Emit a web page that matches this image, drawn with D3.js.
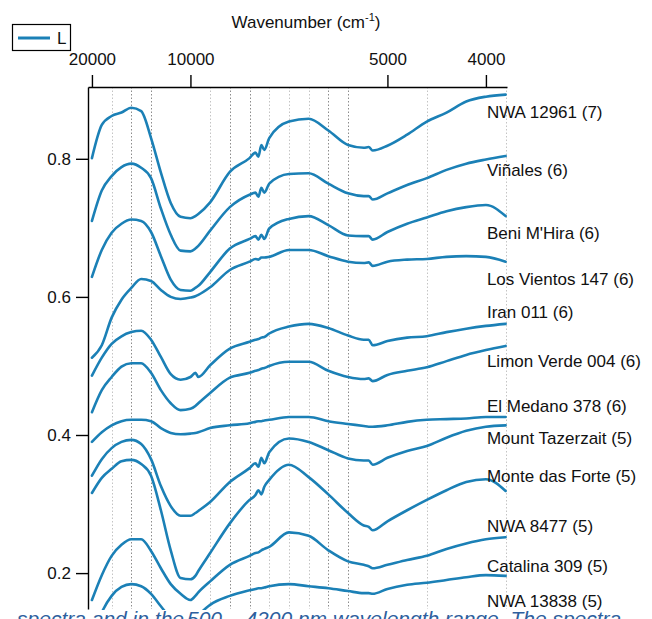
<!DOCTYPE html>
<html>
<head>
<meta charset="utf-8">
<script src="https://cdn.jsdelivr.net/npm/d3@7"></script>
<style>
  html, body { margin: 0; padding: 0; background: #fff; overflow: hidden; }
  text { font-family: "Liberation Sans", Arial, sans-serif; }
</style>
</head>
<body>
<svg id="chart" width="652" height="619"></svg>
<script>
// ---------------- DATA ----------------
const wavelengths = [500,550,600,650,700,750,800,850,900,950,1000,1025,1040,1100,1200,1300,1330,1345,1360,1375,1400,1500,1600,1700,1800,1880,1905,1925,2000,2100,2200,2300,2400,2500,2600];

const seriesNames = ["NWA 12961 (7)", "Viñales (6)", "Beni M'Hira (6)", "Los Vientos 147 (6)", "Iran 011 (6)", "Limon Verde 004 (6)", "El Medano 378 (6)", "Mount Tazerzait (5)", "Monte das Forte (5)", "NWA 8477 (5)", "Catalina 309 (5)", "NWA 13838 (5)"];

const nwa12961 = [0.801,0.849,0.862,0.867,0.874,0.869,0.830,0.780,0.736,0.716, 0.714,0.717,0.720,0.737,0.781,0.801, 0.809,0.803,0.820,0.813,0.830, 0.854,0.858,0.841,0.820, 0.816,0.817,0.812, 0.819,0.835,0.854,0.867,0.883,0.890,0.893];
const vinales = [0.710,0.754,0.775,0.788,0.793,0.787,0.772,0.728,0.690,0.667, 0.666,0.670,0.674,0.696,0.730,0.748, 0.751,0.745,0.758,0.751,0.764, 0.778,0.779,0.764,0.750, 0.746,0.746,0.741, 0.750,0.762,0.772,0.784,0.793,0.799,0.804];
const beniMHira = [0.629,0.668,0.693,0.706,0.712,0.710,0.694,0.659,0.625,0.610, 0.609,0.613,0.616,0.636,0.670,0.684, 0.688,0.683,0.690,0.684,0.699, 0.713,0.717,0.704,0.689, 0.688,0.688,0.683, 0.694,0.706,0.715,0.724,0.730,0.733,0.717];
const losVientos147 = [0.512,0.530,0.570,0.596,0.613,0.626,0.623,0.610,0.600,0.597, 0.599,0.601,0.603,0.614,0.639,0.651, 0.655,0.654,0.657,0.657,0.658, 0.668,0.668,0.659,0.651, 0.649,0.650,0.645, 0.651,0.654,0.655,0.658,0.659,0.658,0.651];
const iran011 = [0.486,0.512,0.532,0.543,0.549,0.551,0.538,0.513,0.488,0.480, 0.484,0.490,0.484,0.501,0.525,0.535, 0.538,0.539,0.541,0.542,0.547, 0.557,0.561,0.555,0.544, 0.538,0.538,0.530, 0.536,0.541,0.543,0.549,0.554,0.558,0.561];
const limonVerde004 = [0.433,0.465,0.484,0.499,0.504,0.504,0.490,0.465,0.446,0.436, 0.438,0.442,0.446,0.461,0.483,0.490, 0.493,0.494,0.496,0.497,0.500, 0.506,0.506,0.493,0.484, 0.481,0.482,0.478, 0.487,0.493,0.498,0.507,0.516,0.523,0.529];
const elMedano378 = [0.390,0.404,0.414,0.420,0.422,0.422,0.420,0.410,0.403,0.401, 0.402,0.403,0.404,0.410,0.414,0.417, 0.419,0.420,0.420,0.421,0.422, 0.426,0.426,0.420,0.416, 0.413,0.412,0.412, 0.414,0.419,0.422,0.423,0.424,0.426,0.426];
const mountTazerzait = [0.341,0.365,0.381,0.390,0.393,0.387,0.365,0.326,0.297,0.283, 0.283,0.287,0.290,0.303,0.332,0.352, 0.359,0.354,0.367,0.359,0.375, 0.395,0.390,0.378,0.366, 0.363,0.363,0.357, 0.367,0.377,0.384,0.396,0.406,0.412,0.414];
const monteDasForte = [0.316,0.338,0.351,0.362,0.364,0.358,0.341,0.291,0.233,0.193, 0.191,0.196,0.203,0.229,0.272,0.306, 0.313,0.320,0.314,0.325,0.335, 0.357,0.339,0.314,0.287, 0.269,0.267,0.262, 0.275,0.291,0.306,0.320,0.332,0.336,0.319];
const nwa8477 = [0.161,0.197,0.225,0.241,0.249,0.249,0.232,0.207,0.184,0.170, 0.161,0.167,0.172,0.188,0.212,0.225, 0.229,0.230,0.233,0.235,0.238, 0.259,0.254,0.233,0.217, 0.212,0.210,0.207, 0.212,0.219,0.225,0.235,0.243,0.249,0.252];
const catalina309 = [0.103,0.143,0.167,0.180,0.184,0.181,0.170,0.152,0.135,0.125, 0.126,0.132,0.138,0.154,0.167,0.175, 0.177,0.178,0.178,0.179,0.181, 0.184,0.181,0.178,0.174, 0.171,0.171,0.170, 0.177,0.183,0.186,0.190,0.194,0.197,0.196];
const nwa13838 = [0.040,0.068,0.090,0.104,0.110,0.108,0.098,0.082,0.068,0.060, 0.058,0.060,0.062,0.074,0.090,0.098, 0.099,0.100,0.100,0.101,0.102, 0.108,0.107,0.104,0.100, 0.098,0.098,0.096, 0.101,0.105,0.108,0.111,0.114,0.117,0.119];

const seriesValues = [nwa12961, vinales, beniMHira, losVientos147, iran011, limonVerde004, elMedano378, mountTazerzait, monteDasForte, nwa8477, catalina309, nwa13838];

// label levels (reflectance units where each name is written)
const labelLevels = [0.868, 0.784, 0.693, 0.626, 0.578, 0.507, 0.442, 0.396, 0.341, 0.268, 0.210, 0.159];

const wavenumberTicks = [20000, 10000, 5000, 4000];   // cm-1
const yTicks = [0.2, 0.4, 0.6, 0.8];
const darkGuides = [700, 800, 1200, 1300, 1700, 1800];   // nm
const lightGuides = [600, 1100, 1400, 1500, 1600, 2200, 2600];
const legendLabel = "L";
const captionStart = "spectra and in the ";
const captionEnd = "500 \u2013 4200 nm wavelength range. The spectra";

// ---------------- CHART ----------------
const color = "#1b80b6";
const svg = d3.select("#chart");

const x = d3.scaleLinear().domain([480, 2607]).range([88, 507]);
const y = d3.scaleLinear().domain([0.148, 0.904]).range([609, 87]);

const [yBottom, yTop] = y.range();

// guide lines
const guides = svg.append("g");
guides.selectAll("line.light").data(lightGuides).join("line")
  .attr("class", "light")
  .attr("x1", d => Math.round(x(d)) + 0.5).attr("x2", d => Math.round(x(d)) + 0.5)
  .attr("y1", yTop).attr("y2", yBottom)
  .attr("stroke", "#c4c4c4").attr("stroke-width", 1).attr("stroke-dasharray", "1.5,2");
guides.selectAll("line.dark").data(darkGuides).join("line")
  .attr("class", "dark")
  .attr("x1", d => Math.round(x(d)) + 0.5).attr("x2", d => Math.round(x(d)) + 0.5)
  .attr("y1", yTop).attr("y2", yBottom)
  .attr("stroke", "#8c8c8c").attr("stroke-width", 1).attr("stroke-dasharray", "1.5,2");

// clip
svg.append("clipPath").attr("id", "plotclip")
  .append("rect").attr("x", 88).attr("y", yTop).attr("width", 430).attr("height", yBottom - yTop + 1);

const line = d3.line()
  .x((d, i) => x(wavelengths[i]))
  .y(d => y(d))
  .curve(d3.curveMonotoneX);

svg.append("g").attr("clip-path", "url(#plotclip)")
  .selectAll("path").data(seriesValues).join("path")
  .attr("d", d => line(d))
  .attr("fill", "none")
  .attr("stroke", color)
  .attr("stroke-width", 2.6)
  .attr("stroke-linejoin", "round")
  .attr("stroke-linecap", "round");

// top axis (wavenumber)
const topAxis = d3.axisTop(x)
  .tickValues(wavenumberTicks.map(v => 1e7 / v))
  .tickFormat((d, i) => wavenumberTicks[i])
  .tickSize(12).tickSizeOuter(0).tickPadding(10);
const gTop = svg.append("g").attr("transform", `translate(0,${yTop})`).call(topAxis);

// left axis
const leftAxis = d3.axisLeft(y)
  .tickValues(yTicks)
  .tickFormat(d3.format(".1f"))
  .tickSize(12).tickSizeOuter(0).tickPadding(5);
const gLeft = svg.append("g").attr("transform", "translate(88,0)").call(leftAxis);

[gTop, gLeft].forEach(g => {
  g.select(".domain").attr("stroke", "#000").attr("stroke-width", 1.4);
  g.selectAll(".tick line").attr("stroke", "#000").attr("stroke-width", 1.4);
  g.selectAll(".tick text").attr("fill", "#111").style("font-size", "17px")
    .style("font-family", '"Liberation Sans", Arial, sans-serif');
});

// axis title
const title = svg.append("text")
  .attr("x", 306).attr("y", 28)
  .attr("text-anchor", "middle")
  .style("font-size", "17px").attr("fill", "#111");
title.append("tspan").text("Wavenumber (cm");
title.append("tspan").attr("dy", -7).style("font-size", "11px").text("-1");
title.append("tspan").attr("dy", 7).text(")");

// series labels
svg.append("g").selectAll("text").data(seriesNames).join("text")
  .attr("x", x(2505))
  .attr("y", (d, i) => y(labelLevels[i]))
  .attr("dy", "0.35em")
  .style("font-size", "17px")
  .attr("fill", "#111")
  .text(d => d);

// legend
const lg = svg.append("g");
lg.append("rect").attr("x", 12.5).attr("y", 24.5).attr("width", 58).attr("height", 26)
  .attr("fill", "#fff").attr("stroke", "#000").attr("stroke-width", 1.2);
lg.append("line").attr("x1", 18).attr("x2", 50).attr("y1", 38).attr("y2", 38)
  .attr("stroke", color).attr("stroke-width", 3);
lg.append("text").attr("x", 57).attr("y", 44).style("font-size", "17px").attr("fill", "#111").text(legendLabel);

// cut-off caption below the figure
svg.append("text").attr("x", 184).attr("y", 626).attr("text-anchor", "end")
  .style("font-size", "21px").style("font-style", "italic").attr("fill", "#2e5f9e").text(captionStart);
svg.append("text").attr("x", 187).attr("y", 626)
  .style("font-size", "21px").style("font-style", "italic").attr("fill", "#2e5f9e").text(captionEnd);
</script>
</body>
</html>
